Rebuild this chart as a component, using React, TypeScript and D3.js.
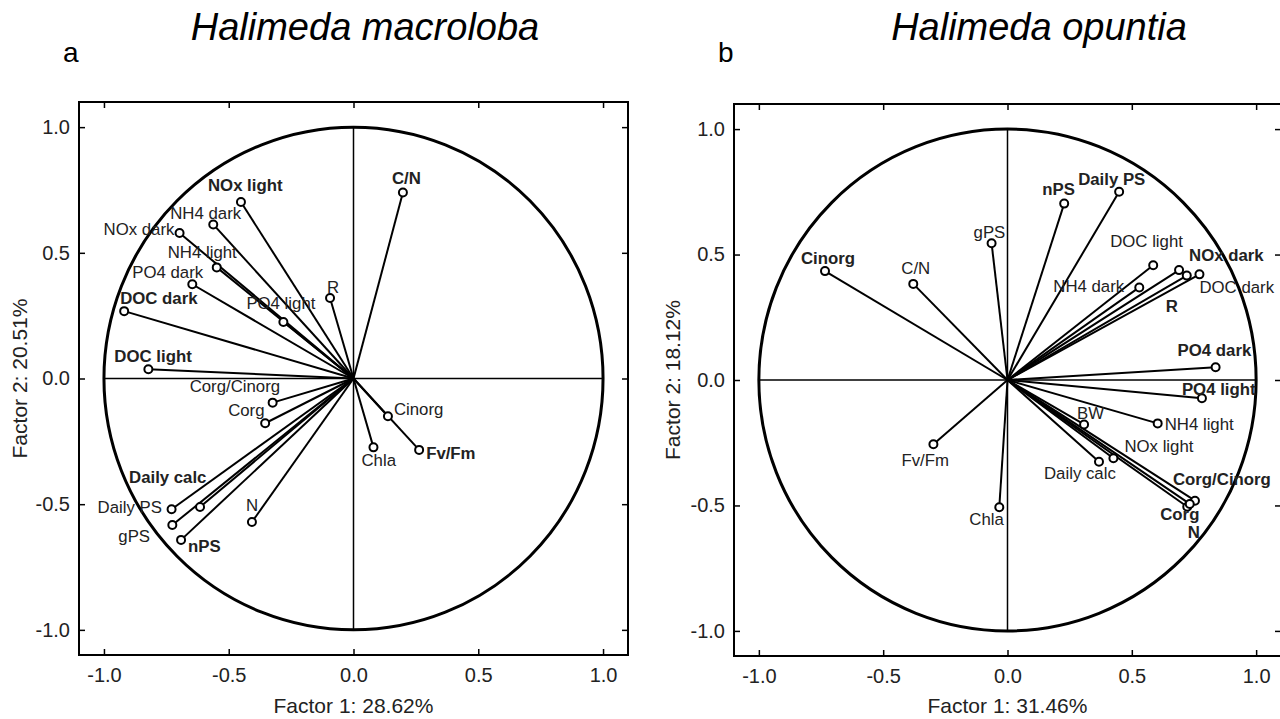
import React, { useEffect, useRef } from 'react';
import * as d3 from 'd3';

// Panel a: Halimeda macroloba
const macroLabels = ['C/N', 'NOx light', 'NH4 dark', 'NOx dark', 'NH4 light', 'PO4 dark', 'PO4 light', 'R', 'DOC dark', 'DOC light', 'Corg/Cinorg', 'Corg', 'Cinorg', 'Chla', 'Fv/Fm', 'Daily calc', 'Daily PS', 'gPS', 'nPS', 'N'];
const macroF1 = [0.198, -0.451, -0.562, -0.697, -0.548, -0.646, -0.281, -0.094, -0.919, -0.822, -0.324, -0.354, 0.138, 0.080, 0.263, -0.615, -0.729, -0.726, -0.691, -0.407];
const macroF2 = [0.740, 0.702, 0.613, 0.579, 0.442, 0.375, 0.225, 0.320, 0.268, 0.037, -0.096, -0.178, -0.150, -0.274, -0.284, -0.511, -0.520, -0.583, -0.642, -0.571];
const macroBold = ['C/N', 'NOx light', 'DOC dark', 'DOC light', 'Daily calc', 'nPS', 'Fv/Fm'];
// label placement (px from the point: left edge, vertical centre)
const macroLabelOffset = [[-11, -14], [-33, -17], [-43, -11], [-76, -3], [-49, -15], [-60, -12], [-37, -18], [-3, -11], [-4, -13], [-34, -13], [-83, -16], [-37, -13], [6, -7], [-12, 13], [7, 4], [-71, -29], [-74, -2], [-54, 11], [7, 7], [-6, -17]];

// Panel b: Halimeda opuntia
const opuntiaLabels = ['Cinorg', 'C/N', 'gPS', 'nPS', 'Daily PS', 'DOC light', 'NH4 dark', 'NOx dark', 'R', 'DOC dark', 'PO4 dark', 'PO4 light', 'BW', 'NH4 light', 'NOx light', 'Daily calc', 'Corg/Cinorg', 'Corg', 'N', 'Fv/Fm', 'Chla'];
const opuntiaF1 = [-0.734, -0.379, -0.064, 0.228, 0.449, 0.586, 0.530, 0.690, 0.721, 0.772, 0.837, 0.782, 0.308, 0.604, 0.426, 0.368, 0.754, 0.723, 0.733, -0.298, -0.033];
const opuntiaF2 = [0.434, 0.383, 0.545, 0.703, 0.750, 0.457, 0.369, 0.438, 0.416, 0.421, 0.051, -0.073, -0.177, -0.173, -0.312, -0.326, -0.481, -0.505, -0.494, -0.256, -0.507];
const opuntiaBold = ['Cinorg', 'nPS', 'Daily PS', 'NOx dark', 'R', 'PO4 dark', 'PO4 light', 'Corg/Cinorg', 'Corg', 'N'];
const opuntiaLabelOffset = [[-24, -13], [-12, -15], [-18, -11], [-22, -14], [-41, -12], [-43, -24], [-86, -1], [10, -15], [-21, 31], [0, 13], [-38, -17], [-20, -9], [-7, -11], [7, 1], [11, -12], [-55, 12], [-22, -21], [-27, 8], [-2, 29], [-32, 16], [-30, 12]];

const ticks = [-1.0, -0.5, 0.0, 0.5, 1.0];

const FONT = '"Liberation Sans", Arial, Helvetica, sans-serif';

interface PanelSpec {
    title: string;
    letter: string;
    xTitle: string;
    yTitle: string;
    labels: string[];
    f1: number[];
    f2: number[];
    bold: string[];
    offsets: number[][];
    xRange: [number, number];
    yRange: [number, number];
    yTitleX: number;
    titleX: number;
}

const panels: PanelSpec[] = [
    {
        title: 'Halimeda macroloba', letter: 'a', xTitle: 'Factor 1: 28.62%', yTitle: 'Factor 2: 20.51%',
        labels: macroLabels, f1: macroF1, f2: macroF2, bold: macroBold, offsets: macroLabelOffset,
        xRange: [79, 628], yRange: [655, 102], yTitleX: 19, titleX: 365
    },
    {
        title: 'Halimeda opuntia', letter: 'b', xTitle: 'Factor 1: 31.46%', yTitle: 'Factor 2: 18.12%',
        labels: opuntiaLabels, f1: opuntiaF1, f2: opuntiaF2, bold: opuntiaBold, offsets: opuntiaLabelOffset,
        xRange: [734, 1281], yRange: [656, 104], yTitleX: 672, titleX: 1039
    }
];

function drawPanel(root: d3.Selection<SVGSVGElement, unknown, null, undefined>, p: PanelSpec) {
    const x = d3.scaleLinear().domain([-1.1, 1.1]).range(p.xRange);
    const y = d3.scaleLinear().domain([-1.1, 1.1]).range(p.yRange);
    const g = root.append('g').attr('font-family', FONT);
    const fmt = (d: d3.NumberValue) => (+d).toFixed(1);

    // frame
    g.append('rect')
        .attr('x', p.xRange[0]).attr('y', p.yRange[1])
        .attr('width', p.xRange[1] - p.xRange[0])
        .attr('height', p.yRange[0] - p.yRange[1])
        .attr('fill', 'none').attr('stroke', '#000').attr('stroke-width', 2);

    // axes with inward ticks
    const left = g.append('g').attr('transform', `translate(${p.xRange[0]},0)`)
        .call(d3.axisLeft(y).tickValues(ticks).tickFormat(fmt).tickSize(-6).tickPadding(9));
    const bottom = g.append('g').attr('transform', `translate(0,${p.yRange[0]})`)
        .call(d3.axisBottom(x).tickValues(ticks).tickFormat(fmt).tickSize(-6).tickPadding(13));
    const right = g.append('g').attr('transform', `translate(${p.xRange[1]},0)`)
        .call(d3.axisRight(y).tickValues(ticks).tickFormat(() => '').tickSize(-6));
    const top = g.append('g').attr('transform', `translate(0,${p.yRange[1]})`)
        .call(d3.axisTop(x).tickValues(ticks).tickFormat(() => '').tickSize(-6));
    [left, bottom, right, top].forEach(a => {
        a.select('.domain').remove();
        a.selectAll('line').attr('stroke', '#000').attr('stroke-width', 1.5);
        a.selectAll('text').attr('font-size', 20).attr('font-family', FONT).attr('fill', '#222');
    });

    // unit circle
    g.append('ellipse')
        .attr('cx', x(0)).attr('cy', y(0))
        .attr('rx', x(1) - x(0)).attr('ry', y(0) - y(1))
        .attr('fill', 'none').attr('stroke', '#000').attr('stroke-width', 3);

    // crosshair
    g.append('line').attr('x1', x(-1)).attr('x2', x(1)).attr('y1', y(0)).attr('y2', y(0))
        .attr('stroke', '#000').attr('stroke-width', 1.5);
    g.append('line').attr('x1', x(0)).attr('x2', x(0)).attr('y1', y(-1)).attr('y2', y(1))
        .attr('stroke', '#000').attr('stroke-width', 1.5);

    const data = p.labels.map((name, i) => ({ name, fx: p.f1[i], fy: p.f2[i], off: p.offsets[i] }));

    // vectors
    g.append('g').selectAll('line').data(data).join('line')
        .attr('x1', x(0)).attr('y1', y(0))
        .attr('x2', d => x(d.fx)).attr('y2', d => y(d.fy))
        .attr('stroke', '#000').attr('stroke-width', 2);

    g.append('g').selectAll('circle').data(data).join('circle')
        .attr('cx', d => x(d.fx)).attr('cy', d => y(d.fy)).attr('r', 4)
        .attr('fill', '#fff').attr('stroke', '#000').attr('stroke-width', 2);

    g.append('g').selectAll('text').data(data).join('text')
        .attr('x', d => x(d.fx) + d.off[0]).attr('y', d => y(d.fy) + d.off[1])
        .attr('dominant-baseline', 'central')
        .attr('font-size', 16.8)
        .attr('font-weight', d => p.bold.includes(d.name) ? 'bold' : 'normal')
        .attr('fill', '#222')
        .text(d => d.name);

    // titles
    g.append('text').attr('x', x(0)).attr('y', 713).attr('text-anchor', 'middle')
        .attr('font-size', 21).attr('fill', '#222').text(p.xTitle);
    g.append('text').attr('transform', `translate(${p.yTitleX},${y(0)}) rotate(-90)`)
        .attr('text-anchor', 'middle').attr('dominant-baseline', 'central')
        .attr('font-size', 21).attr('fill', '#222').text(p.yTitle);
    g.append('text').attr('x', p.titleX).attr('y', 40).attr('text-anchor', 'middle')
        .attr('font-size', 38).attr('font-style', 'italic').attr('fill', '#000').text(p.title);
    g.append('text').attr('x', p.xRange[0] - 16).attr('y', 62)
        .attr('font-size', 28).attr('fill', '#000').text(p.letter);
}

export default function App() {
    const svgRef = useRef<SVGSVGElement>(null);

    useEffect(() => {
        if (!svgRef.current) return;
        const svg = d3.select(svgRef.current);
        svg.selectAll('*').remove();
        panels.forEach(p => drawPanel(svg, p));
    }, []);

    return (
        <div style={{ position: 'absolute', left: 0, top: 0, width: 1280, height: 719, background: '#fff' }}>
            <svg ref={svgRef} width={1280} height={719} viewBox="0 0 1280 719" style={{ display: 'block' }} />
        </div>
    );
}
